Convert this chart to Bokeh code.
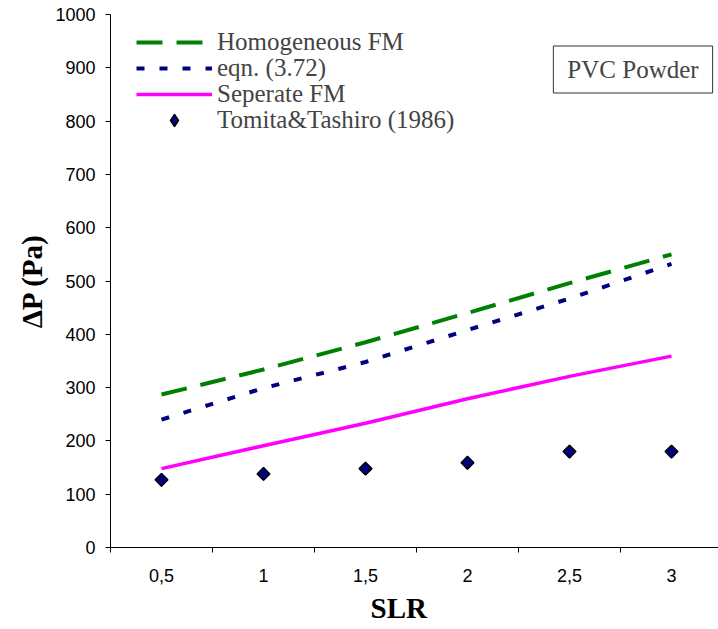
import numpy as np
from bokeh.plotting import figure
from bokeh.models import (ColumnDataSource, FixedTicker, Legend, LegendItem,
                          Label, Range1d, Title)
from bokeh.embed import file_html
from bokeh.resources import INLINE

# ---- data ----
slr_labels = ["0,5", "1", "1,5", "2", "2,5", "3"]
homogeneous_fm = [287, 334, 385, 440, 496, 550]
eqn_372 = [240, 299, 348, 408, 467, 532]
separate_fm = [148, 191, 233, 279, 321, 359]
tomita_tashiro = [127, 138, 148, 159, 180, 180]
y_ticks = [0, 100, 200, 300, 400, 500, 600, 700, 800, 900, 1000]
series_names = ["Homogeneous FM", "eqn. (3.72)", "Seperate FM", "Tomita&Tashiro (1986)"]

# category positions (Excel-like category axis)
n = len(slr_labels)
xpos = [i + 0.5 for i in range(n)]
boundaries = list(range(n + 1))

src = ColumnDataSource(dict(x=xpos, homog=homogeneous_fm, eqn=eqn_372,
                            sep=separate_fm, tom=tomita_tashiro))

FRAME_L, FRAME_T, FRAME_B = 110, 14, 547
W, H = 718, 629
cat_w = 102

p = figure(width=W, height=H, output_backend="svg", toolbar_location=None,
           x_range=Range1d(0, (W - FRAME_L) / cat_w), y_range=Range1d(0, 1000),
           min_border_left=FRAME_L, min_border_right=0,
           min_border_top=FRAME_T, min_border_bottom=H - FRAME_B)
p.outline_line_color = None
p.background_fill_color = "white"
p.border_fill_color = "white"
p.xgrid.visible = False
p.ygrid.visible = False

# x axis
xa = p.xaxis[0]
xa.ticker = FixedTicker(ticks=xpos, minor_ticks=boundaries)
xa.major_label_overrides = {x: lab for x, lab in zip(xpos, slr_labels)}
xa.major_tick_out = 0
xa.major_tick_in = 0
xa.minor_tick_out = 5
xa.minor_tick_in = 0
xa.major_label_standoff = 16
xa.major_label_text_font = "Liberation Sans"
xa.major_label_text_font_size = "18px"
xa.major_label_text_color = "black"
xa.axis_line_color = "black"
xa.minor_tick_line_color = "black"

# y axis
ya = p.yaxis[0]
ya.ticker = FixedTicker(ticks=y_ticks, minor_ticks=[])
ya.major_tick_out = 5
ya.major_tick_in = 0
ya.major_label_standoff = 10
ya.major_label_text_font = "Liberation Sans"
ya.major_label_text_font_size = "18px"
ya.major_label_text_color = "black"
ya.axis_line_color = "black"
ya.major_tick_line_color = "black"
ya.axis_label = "ΔP (Pa)"
ya.axis_label_text_font = "Times New Roman"
ya.axis_label_text_font_style = "bold"
ya.axis_label_text_font_size = "29px"
ya.axis_label_text_color = "black"
ya.axis_label_standoff = 4

# x axis title as a below-panel title, positioned like the reference
p.add_layout(Title(text="SLR", align="left", offset=260, standoff=11,
                   text_font="Times New Roman", text_font_style="bold",
                   text_font_size="29px", text_color="black"), "below")

r1 = p.line(x="x", y="homog", source=src, line_color="#008000", line_width=4,
            line_dash="26 14")
r2 = p.line(x="x", y="eqn", source=src, line_color="#000080", line_width=4,
            line_dash="8 15")
r3 = p.line(x="x", y="sep", source=src, line_color="#FF00FF", line_width=3.5)
# diamond glyph used as legend symbol (hidden under the rotated squares)
r4_leg = p.scatter(x="x", y="tom", source=src, marker="diamond", size=12,
                   fill_color="#000080", line_color="black", line_width=1.5)
r4 = p.scatter(x="x", y="tom", source=src, marker="square", angle=np.pi / 4,
               size=9, fill_color="#000080", line_color="black", line_width=1.5)

# legend: one row each, placed to match the reference
row_centers = [42, 68, 94, 119.5]
row_h = 30
for r, name, yc in zip([r1, r2, r3, r4_leg], series_names, row_centers):
    leg = Legend(items=[LegendItem(label=name, renderers=[r])],
                 location=(136 - FRAME_L, FRAME_B - (yc + row_h / 2)),
                 label_text_font="Liberation Serif", label_text_font_size="25px",
                 label_height=row_h, glyph_height=row_h, glyph_width=76,
                 label_standoff=5, padding=0, margin=0, spacing=0,
                 border_line_color=None, background_fill_alpha=0)
    p.add_layout(leg, "center")

# PVC Powder box
p.add_layout(Label(x=632.5 - FRAME_L, y=FRAME_B - 69, x_units="screen", y_units="screen",
                   text="PVC Powder", text_align="center", text_baseline="middle",
                   text_font="Liberation Serif", text_font_size="25px",
                   border_line_color="#333333", border_line_width=1,
                   background_fill_color="white",
                   padding=dict(left=14, right=14, top=10, bottom=10)))

open("out.html", "w").write(file_html(p, INLINE))
